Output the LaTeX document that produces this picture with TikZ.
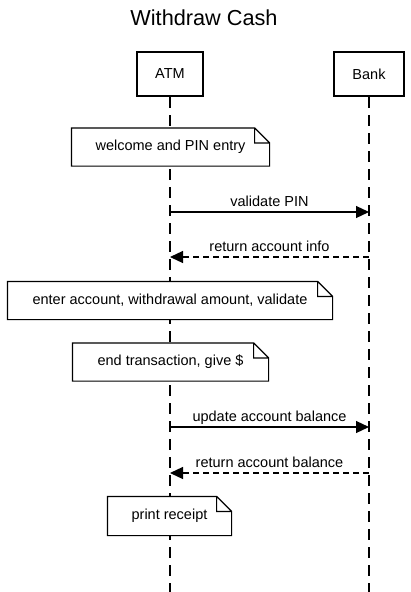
\documentclass[tikz,border=0pt]{standalone}
\usepackage{fontspec}
\setmainfont{Liberation Sans}
\usetikzlibrary{calc,arrows.meta}

\begin{document}
\begin{tikzpicture}[x=1pt,y=-1pt,line width=1.2pt]
  \tikzstyle{actor}=[draw,line width=2.4pt,minimum width=66pt,minimum height=44pt,
    font=\fontsize{14.5}{17}\selectfont]
  \tikzstyle{note}=[fill=white,minimum height=37pt,inner sep=0pt,
    font=\fontsize{14.5}{17}\selectfont]
  \tikzstyle{lifeline}=[dash pattern=on 11pt off 7pt]
  \tikzstyle{call}=[-{Triangle[length=13pt,width=12pt]}]
  \tikzstyle{reply}=[call,dash pattern=on 6pt off 4pt]
  \tikzstyle{msg}=[midway,anchor=base,yshift=6pt,inner sep=0pt,
    font=\fontsize{14.5}{17}\selectfont]

  \useasboundingbox (0,0) rectangle (411,592);

  \node (title) at (204,18) [font=\fontsize{21.7}{26}\selectfont] {Withdraw Cash};
  \node[actor] (ATM) at (170,74) {ATM};
  \node[actor] (Bank) at (369,74) [minimum width=70pt] {Bank};

  % lifelines
  \coordinate (ATM-end) at (ATM |- 0,592);
  \coordinate (Bank-end) at (Bank |- 0,592);
  \draw[lifeline] (ATM.south) -- (ATM-end);
  \draw[lifeline] (Bank.south) -- (Bank-end);

  % notes on the ATM lifeline
  \node[note,minimum width=197pt] (welcome) at (170.5,147) {welcome and PIN entry};
  \node[note,minimum width=324pt] (enter) at (170,300.5) {enter account, withdrawal amount, validate};
  \node[note,minimum width=195pt] (finish) at (170.5,362) {end transaction, give \$};
  \node[note,minimum width=123pt,minimum height=38pt] (receipt) at (169.5,516) {print receipt};
  \foreach \n in {welcome,enter,finish,receipt}
    \draw ($(\n.north east)+(-15,0)$) -- (\n.north west) -- (\n.south west)
          -- (\n.south east) -- ($(\n.north east)+(0,15)$) -- cycle
          ($(\n.north east)+(-15,0)$) -- ($(\n.north east)+(-15,15)$)
          -- ($(\n.north east)+(0,15)$);

  % messages
  \foreach \row/\y in {pin/212,info/257,upd/427,bal/473}{
    \coordinate (ATM-\row) at (ATM |- 0,\y);
    \coordinate (Bank-\row) at (Bank |- 0,\y);
  }
  \draw[call] (ATM-pin) -- (Bank-pin) node[msg] {validate PIN};
  \draw[reply] (Bank-info) -- (ATM-info) node[msg] {return account info};
  \draw[call] (ATM-upd) -- (Bank-upd) node[msg] {update account balance};
  \draw[reply] (Bank-bal) -- (ATM-bal) node[msg] {return account balance};
\end{tikzpicture}
\end{document}
